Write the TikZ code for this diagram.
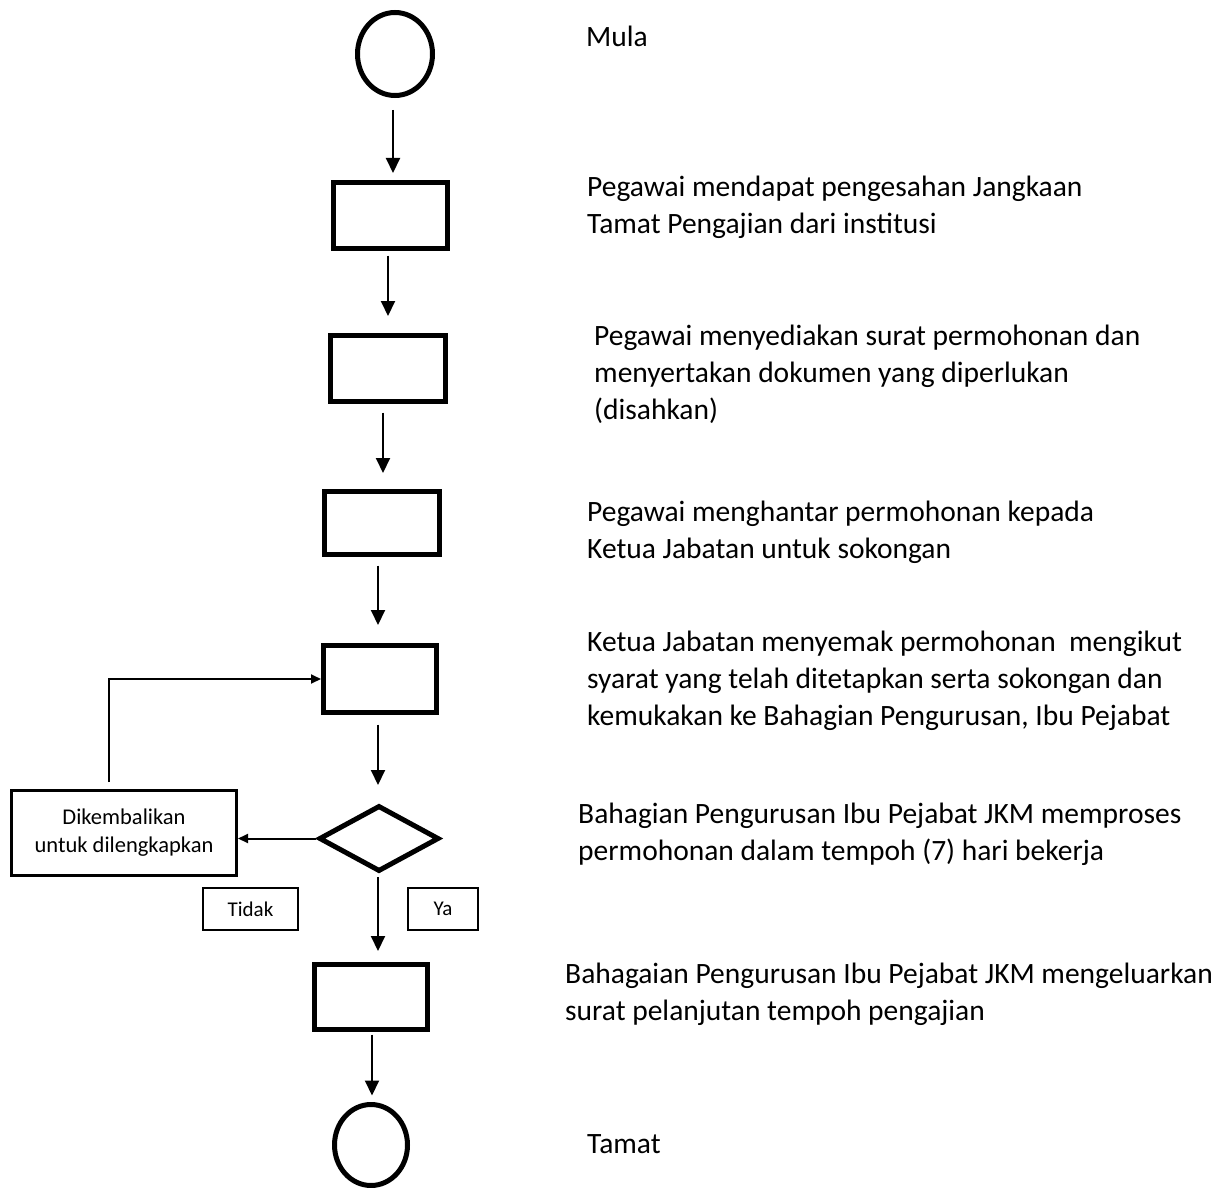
\documentclass[tikz,border=0pt]{standalone}
\usepackage{fontspec}
\setmainfont{Carlito}
\usetikzlibrary{arrows.meta,shapes.geometric}
\begin{document}
\begin{tikzpicture}[x=1pt,y=-1pt,
  term/.style={draw,ellipse,line width=5pt,inner sep=0pt},
  stepbox/.style={draw,rectangle,line width=5pt,inner sep=0pt},
  decide/.style={draw,diamond,line width=5pt,inner sep=0pt},
  note/.style={draw,rectangle,line width=2pt,inner sep=0pt,align=center,font=\fontsize{22.5}{28}\selectfont},
  % multi-line descriptions are anchored on the baseline of their last line
  desc/.style={anchor=base west,inner sep=0pt,align=left,font=\fontsize{29.5}{36.8}\selectfont},
  flow/.style={line width=2pt,-{Triangle[length=15pt,width=14pt]}},
  back/.style={line width=2pt,-{Triangle[length=10pt,width=9pt]}},
]
\useasboundingbox[fill=white] (0,0) rectangle (1221,1188);

% flow shapes
\node[term,minimum width=75,minimum height=83] (start) at (395,54) {};
\node[stepbox,minimum width=114,minimum height=66] (b1) at (390.5,215.5) {};
\node[stepbox,minimum width=115,minimum height=66] (b2) at (388,368.5) {};
\node[stepbox,minimum width=115,minimum height=63] (b3) at (382,523) {};
\node[stepbox,minimum width=113,minimum height=67] (b4) at (380,679) {};
\node[decide,minimum width=120,minimum height=66] (dec) at (379,838.5) {};
\node[note,line width=3pt,minimum width=225,minimum height=85] (ret) at (124,833) {Dikembalikan\\untuk dilengkapkan};
\node[note,minimum width=95,minimum height=42,font=\fontsize{21}{26}\selectfont] (no) at (250.5,909) {Tidak};
\node[note,minimum width=70,minimum height=42,font=\fontsize{21}{26}\selectfont] (yes) at (443,909) {Ya};
\node[stepbox,minimum width=113,minimum height=65] (b5) at (371,997) {};
\node[term,minimum width=73,minimum height=81] (stop) at (371,1145) {};

% connectors
\draw[flow,shorten <=12pt,shorten >=7pt] ([xshift=-2pt]start.south) -- ([xshift=-2pt]start.south |- b1.north);
\draw[flow,shorten <=4.5pt,shorten >=17pt] ([xshift=-2.5pt]b1.south) -- ([xshift=-2.5pt]b1.south |- b2.north);
\draw[flow,shorten <=8.5pt,shorten >=16pt] ([xshift=-5pt]b2.south) -- ([xshift=-5pt]b2.south |- b3.north);
\draw[flow,shorten <=8.5pt,shorten >=18pt] ([xshift=-4pt]b3.south) -- ([xshift=-4pt]b3.south |- b4.north);
\draw[flow,shorten <=9.5pt,shorten >=18pt] ([xshift=-2pt]b4.south) -- ([xshift=-2pt]b4.south |- dec.north);
\draw[flow,shorten <=3pt,shorten >=11pt] ([xshift=-1pt]dec.south) -- ([xshift=-1pt]dec.south |- b5.north);
\draw[flow,shorten <=2.5pt,shorten >=6.5pt] ([xshift=1pt]b5.south) -- ([xshift=1pt]b5.south |- stop.north);
\draw[back,shorten <=1pt] (dec.west) -- (dec.west -| ret.east);
\draw[back] ([xshift=-15pt,yshift=7pt]ret.north) |- (b4.west);

% step descriptions
\node[desc] (t0) at (586,47) {Mula};
\node[desc] (t1) at (587,233) {Pegawai mendapat pengesahan Jangkaan\\Tamat Pengajian dari institusi};
\node[desc] (t2) at (594,419) {Pegawai menyediakan surat permohonan dan\\menyertakan dokumen yang diperlukan\\(disahkan)};
\node[desc] (t3) at (587,558) {Pegawai menghantar permohonan kepada\\Ketua Jabatan untuk sokongan};
\node[desc] (t4) at (587,725) {Ketua Jabatan menyemak permohonan\ \ mengikut\\syarat yang telah ditetapkan serta sokongan dan\\kemukakan ke Bahagian Pengurusan, Ibu Pejabat};
\node[desc] (t5) at (578,860) {Bahagian Pengurusan Ibu Pejabat JKM memproses\\permohonan dalam tempoh (7) hari bekerja};
\node[desc] (t6) at (565,1020) {Bahagaian Pengurusan Ibu Pejabat JKM mengeluarkan\\surat pelanjutan tempoh pengajian};
\node[desc] (t7) at (587,1153) {Tamat};
\end{tikzpicture}
\end{document}
